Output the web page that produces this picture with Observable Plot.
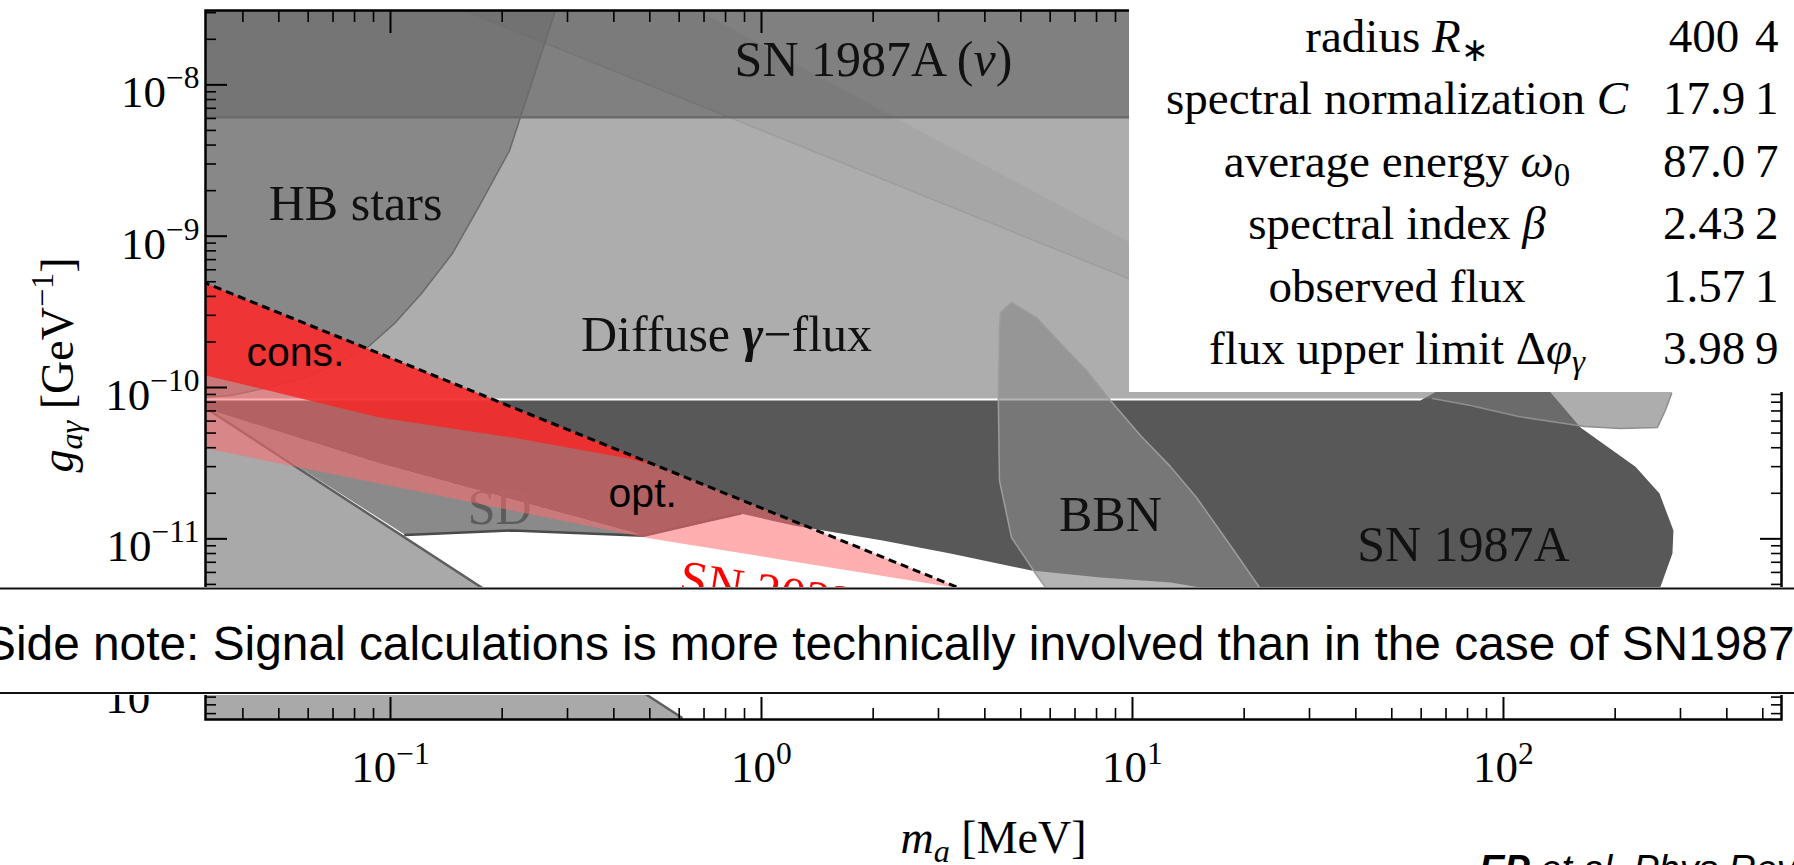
<!DOCTYPE html>
<html><head><meta charset="utf-8">
<script src="https://cdn.jsdelivr.net/npm/d3@7"></script>
<script src="https://cdn.jsdelivr.net/npm/@observablehq/plot@0.6"></script>
<style>
html,body{margin:0;padding:0;background:#fff;width:1794px;height:865px;overflow:hidden;}
#wrap{position:relative;width:1794px;height:865px;overflow:hidden;background:#fff;}
#wrap > *{position:absolute;}
</style></head><body><div id="wrap"></div>
<script>
// ---------------- data ----------------
const xMajorTicks = [0.1, 1, 10, 100];
const xMinorTicks = [0.04,0.05,0.06,0.07,0.08,0.09, 0.2,0.3,0.4,0.5,0.6,0.7,0.8,0.9,
                     2,3,4,5,6,7,8,9, 20,30,40,50,60,70,80,90, 200,300,400,500];
const yMajorTicks = [1e-12, 1e-11, 1e-10, 1e-9, 1e-8];
const yMinorTicks = [7e-13,8e-13,9e-13, 2e-12,3e-12,4e-12,5e-12,6e-12,7e-12,8e-12,9e-12,
                     2e-11,3e-11,4e-11,5e-11,6e-11,7e-11,8e-11,9e-11,
                     2e-10,3e-10,4e-10,5e-10,6e-10,7e-10,8e-10,9e-10,
                     2e-9,3e-9,4e-9,5e-9,6e-9,7e-9,8e-9,9e-9, 2e-8,3e-8];

// SN 1987A (nu) band
const nuBandMass = [0.031, 600];
const nuBandCoupling = [6.1e-9, 4e-8];
// HB stars
const hbMass = [0.031, 0.037, 0.0469, 0.0594, 0.072, 0.0867, 0.1025, 0.1212, 0.1469, 0.1727, 0.2093, 0.224, 0.288];
const hbCoupling = [8.6e-11, 8.86e-11, 1.0e-10, 1.164e-10, 1.44e-10, 1.84e-10, 2.65e-10, 4.18e-10, 7.69e-10, 1.548e-9, 3.68e-9, 6.1e-9, 4e-8];
// Diffuse gamma-flux
const diffuseMass = [0.031, 64.4, 81.5, 109.8, 165.3, 206.8, 260, 273, 284, 300, 300, 0.031];
const diffuseCoupling = [8.46e-11, 8.46e-11, 7.6e-11, 6.43e-11, 5.52e-11, 5.36e-11, 5.44e-11, 7.05e-11, 9.13e-11, 2e-10, 8e-9, 8e-9];
// SN 1987A (dark region)
const sn87Mass = [0.031, 59.7, 69.8, 129.8, 134.7, 161.3, 191.9, 226.9, 263.4, 287.2, 285.4, 263.4, 234.1, 20.8, 15.25, 12.66, 8.2, 5.34, 3.23, 2.12, 1.22, 0.878, 0.685, 0.484, 0.0934, 0.031];
const sn87Coupling = [8.2e-11, 8.2e-11, 1.015e-10, 1.015e-10, 9.13e-11, 5.44e-11, 4.01e-11, 3.0e-11, 1.99e-11, 1.134e-11, 8.0e-12, 4.62e-12, 2.88e-12, 2.88e-12, 4.77e-12, 5.14e-12, 5.55e-12, 6.17e-12, 8.0e-12, 9.74e-12, 1.224e-11, 1.47e-11, 1.28e-11, 1.05e-11, 3.15e-11, 7.4e-11];
// SD
const sdMass = [0.0319, 0.0934, 0.484, 0.213, 0.1097];
const sdCoupling = [7.3e-11, 3.15e-11, 1.05e-11, 1.135e-11, 1.06e-11];
const sdEdgeMass = [0.1097, 0.213, 0.484, 0.685, 0.878];
const sdEdgeCoupling = [1.06e-11, 1.135e-11, 1.05e-11, 1.28e-11, 1.47e-11];
// lower-left light region
const lowMass = [0.031, 0.609, 0.65, 0.031];
const lowCoupling = [7.6e-11, 6.59e-13, 5e-13, 5e-13];
// BBN
const bbnMass = [4.41, 4.72, 5.51, 6.48, 7.52, 8.72, 10.51, 12.66, 14.88, 18.37, 22.0, 24.3, 5.83, 5.83, 5.48, 4.72, 4.38, 4.35, 4.38];
const bbnCoupling = [3.13e-10, 3.65e-10, 2.90e-10, 1.895e-10, 1.296e-10, 8.2e-11, 4.82e-11, 3.0e-11, 1.875e-11, 9.03e-12, 4.77e-12, 2.88e-12, 2.88e-12, 4.77e-12, 5.9e-12, 1.02e-11, 2.43e-11, 8.2e-11, 2.38e-10];
// faint stripe in the diffuse region
const stripeMass = [0.140, 11.18, 11.18, 2.28, 0.62];
const stripeCoupling = [3.5e-8, 4.58e-10, 7.69e-10, 6.1e-9, 3.5e-8];
// SN 2023ixf bands
const dashedMass = [0.031, 0.528, 3.44, 5];
const dashedCoupling = [5.01e-10, 3.01e-11, 4.69e-12, 3.23e-12];
const optLowerMass = [3.44, 0.502, 0.031];
const optLowerCoupling = [4.69e-12, 1.005e-11, 4.01e-11];
const consLowerMass = [0.528, 0.438, 0.213, 0.0934, 0.031];
const consLowerCoupling = [3.01e-11, 3.39e-11, 4.67e-11, 6.33e-11, 1.22e-10];

// labels
const labelText = ["HB stars", "Diffuse {b:γ}−flux", "SN 1987A ({i:ν})", "BBN", "SN 1987A"];
const labelMass = [0.0805, 0.805, 2.004, 8.72, 78.0];
const labelCoupling = [1.27e-9, 1.756e-10, 1.136e-8, 1.135e-11, 7.19e-12];
const bandLabelText = ["cons.", "opt."];
const bandLabelMass = [0.0409, 0.387];
const bandLabelCoupling = [1.397e-10, 1.635e-11];

const xTitle = "{i:m}{subi:a} [MeV]";
const yTitle = "{i:g}{subi:aγ} [GeV{sup:−1}]";

const tableLabels = ["radius {i:R}{sub:∗}", "spectral normalization {i:C}", "average energy {i:ω}{sub:0}",
                     "spectral index {i:β}", "observed flux", "flux upper limit Δ{i:φ}{subi:γ}"];
const tableCol1 = ["400", "17.9", "87.0", "2.43", "1.57", "3.98"];
const tableCol2 = ["4", "1", "7", "2", "1", "9"];
const noteText = "Side note: Signal calculations is more technically involved than in the case of SN1987A.";

// ---------------- drawing ----------------
const serif = "'Liberation Serif','Times New Roman',serif";
const sans = "'Liberation Sans',Arial,sans-serif";
const pts = (ms, gs) => ms.map((m, i) => ({m, g: gs[i]}));
const XY = {x: "m", y: "g", clip: true};
const area = (ms, gs, o) => Plot.line(pts(ms, gs), {...XY, stroke: "none", curve: "linear", ...o});
const edge = (ms, gs, o) => Plot.line(pts(ms, gs), {...XY, fill: "none", curve: "linear", ...o});
const fmt = d => { const e = Math.round(Math.log10(d)); return "10{sup:" + (e < 0 ? "−" + (-e) : String(e)) + "}"; };

const consPoly = [pts(dashedMass.slice(0, 2), dashedCoupling.slice(0, 2)), pts(consLowerMass, consLowerCoupling)].flat();
const optPoly = [pts(dashedMass.slice(0, 3), dashedCoupling.slice(0, 3)), pts(optLowerMass, optLowerCoupling)].flat();

const labels = labelText.map((t, i) => ({t, m: labelMass[i], g: labelCoupling[i]}));
const bandLabels = bandLabelText.map((t, i) => ({t, m: bandLabelMass[i], g: bandLabelCoupling[i]}));

const tickAxes = [];
for (const a of ["bottom", "top"]) {
  tickAxes.push(Plot.axisX({anchor: a, ticks: xMajorTicks, tickSize: -22, fill: "none", strokeWidth: 2}));
  tickAxes.push(Plot.axisX({anchor: a, ticks: xMinorTicks, tickSize: -11, fill: "none", strokeWidth: 1.6}));
}
for (const a of ["left", "right"]) {
  tickAxes.push(Plot.axisY({anchor: a, ticks: yMajorTicks, tickSize: -22, fill: "none", strokeWidth: 2}));
  tickAxes.push(Plot.axisY({anchor: a, ticks: yMinorTicks, tickSize: -11, fill: "none", strokeWidth: 1.6}));
}

const chart = Plot.plot({
  width: 1794, height: 865,
  marginLeft: 205, marginRight: 13, marginTop: 10, marginBottom: 146,
  x: {type: "log", domain: [0.03172, 561.6]},
  y: {type: "log", domain: [6.40e-13, 3.10e-8]},
  style: {fontFamily: serif, fontSize: "45px", color: "black", background: "transparent", overflow: "visible"},
  marks: [
    area(lowMass, lowCoupling, {fill: "#a9a9a9"}),
    area(sdMass, sdCoupling, {fill: "#8a8a8a"}),
    area(sn87Mass, sn87Coupling, {fill: "#585858"}),
    area(diffuseMass, diffuseCoupling, {fill: "rgb(120,120,120)", fillOpacity: 0.605}),
    edge(diffuseMass.slice(1, 9), diffuseCoupling.slice(1, 9), {stroke: "#8e8e8e", strokeWidth: 1.5}),
    Plot.rect([{x1: nuBandMass[0], x2: nuBandMass[1], y1: nuBandCoupling[0], y2: nuBandCoupling[1]}],
      {x1: "x1", x2: "x2", y1: "y1", y2: "y2", fill: "#808080", clip: true}),
    area(stripeMass, stripeCoupling, {fill: "black", fillOpacity: 0.035}),
    edge(stripeMass.slice(0, 2), stripeCoupling.slice(0, 2), {stroke: "#000", strokeOpacity: 0.07, strokeWidth: 1.5}),
    area([...hbMass, 0.031], [...hbCoupling, 4e-8], {fill: "rgb(108,108,108)", fillOpacity: 0.565}),
    edge(hbMass, hbCoupling, {stroke: "#6a6a6a", strokeWidth: 1.5}),
    Plot.ruleY([nuBandCoupling[0]], {stroke: "#6b6b6b", strokeWidth: 2.5, clip: true}),
    area(bbnMass, bbnCoupling, {fill: "rgb(138,138,138)", fillOpacity: 0.64}),
    edge([...bbnMass, bbnMass[0]], [...bbnCoupling, bbnCoupling[0]], {stroke: "#9c9c9c", strokeWidth: 1.5}),
    edge([lowMass[0], lowMass[1]], [lowCoupling[0], lowCoupling[1]], {stroke: "#5f5f5f", strokeWidth: 2.5}),
    edge(sdEdgeMass, sdEdgeCoupling, {stroke: "#4a4a4a", strokeWidth: 2.5}),
    Plot.text(["SD"], {x: [0.197], y: [1.262e-11], text: d => d, fill: "#5c5c5c", fontSize: 50, fontFamily: serif, lineAnchor: "bottom"}),
    Plot.line(optPoly, {...XY, stroke: "none", fill: "rgb(255,108,108)", fillOpacity: 0.54}),
    Plot.line(consPoly, {...XY, stroke: "none", fill: "rgb(245,40,40)", fillOpacity: 0.85}),
    edge(dashedMass, dashedCoupling, {stroke: "black", strokeWidth: 3, strokeDasharray: "8,5", strokeLinecap: "butt"}),
    Plot.text(labels, {x: "m", y: "g", text: "t", fill: "#111", fontSize: 50, fontFamily: serif, lineAnchor: "bottom"}),
    Plot.text(bandLabels, {x: "m", y: "g", text: "t", fill: "black", fontSize: 41, fontFamily: sans, textAnchor: "start", lineAnchor: "bottom"}),
    Plot.text(["SN 2023ixf"], {x: [0.594], y: [4.35e-12], text: d => d, fill: "#ff0000", fontSize: 50, fontFamily: serif, textAnchor: "start", lineAnchor: "bottom", rotate: 9}),
    Plot.axisX({ticks: xMajorTicks, tickSize: 0, tickPadding: 31, tickFormat: fmt, label: null, fontSize: 45}),
    Plot.axisY({ticks: yMajorTicks, tickSize: 0, tickPadding: 6, dy: 8, tickFormat: fmt, label: null, fontSize: 45}),
    ...tickAxes,
    Plot.text([xTitle], {frameAnchor: "bottom", dy: 133, text: d => d, fontSize: 46, textAnchor: "middle", lineAnchor: "bottom"}),
    Plot.text([yTitle], {frameAnchor: "left", dx: -133, rotate: -90, text: d => d, fontSize: 46, textAnchor: "middle", lineAnchor: "bottom"}),
    Plot.frame({stroke: "black", strokeWidth: 2.5})
  ]
});
chart.style.left = "0px"; chart.style.top = "0px";
const wrap = document.getElementById("wrap");
wrap.appendChild(chart);

// ----- table overlay -----
const tbl = d3.select(wrap).append("svg").attr("width", 665).attr("height", 392)
  .style("left", "1129px").style("top", "0px")
  .attr("font-family", serif).attr("font-size", 47);
tbl.append("rect").attr("width", 665).attr("height", 392).attr("fill", "white");
tableLabels.forEach((t, i) => {
  const y = 52 + i * 62.4;
  tbl.append("text").attr("x", 268).attr("y", y).attr("text-anchor", "middle").text(t);
  tbl.append("text").attr("x", 575).attr("y", y).attr("text-anchor", "middle").text(tableCol1[i]);
  tbl.append("text").attr("x", 626).attr("y", y).attr("text-anchor", "start").text(tableCol2[i]);
});

// ----- side note overlay -----
const ctx = document.createElement("canvas").getContext("2d");
ctx.font = "100px 'Liberation Sans'";
const prefix = noteText.slice(0, noteText.indexOf("SN1987") + 6);
const noteStart = -16, noteEnd = 1795;
const noteFs = 100 * (noteEnd - noteStart) / ctx.measureText(prefix).width;
const note = d3.select(wrap).append("svg").attr("width", 1794).attr("height", 110)
  .style("left", "0px").style("top", "586px");
note.append("rect").attr("y", 1).attr("width", 1794).attr("height", 108).attr("fill", "white");
note.append("line").attr("x1", 0).attr("x2", 1794).attr("y1", 2.5).attr("y2", 2.5).attr("stroke", "#111").attr("stroke-width", 2);
note.append("line").attr("x1", 0).attr("x2", 1794).attr("y1", 107).attr("y2", 107).attr("stroke", "#111").attr("stroke-width", 2);
note.append("text").attr("x", noteStart).attr("y", 74)
  .attr("font-family", sans).attr("font-size", noteFs.toFixed(2)).attr("fill", "black").text(noteText);

// ----- reference caption -----
d3.select(wrap).append("div").style("left", "1479px").style("top", "850px")
  .style("font", "italic 38px 'Liberation Sans', Arial, sans-serif").style("line-height", "38px").style("white-space", "nowrap")
  .html("<b>EP</b> et al. Phys Rev");

// ----- rich text (italic, sub/superscripts) -----
function richify(root) {
  const NS = "http://www.w3.org/2000/svg";
  root.querySelectorAll("text").forEach(el => {
    const s = el.textContent;
    if (!/\{(i|b|sup|sub|subi):/.test(s)) return;
    const fs = parseFloat(getComputedStyle(el).fontSize) || 45;
    while (el.firstChild) el.removeChild(el.firstChild);
    let shift = 0, m;
    const re = /\{(i|b|sup|sub|subi):([^}]*)\}|([^{]+)/g;
    while ((m = re.exec(s))) {
      const cmd = m[1], txt = cmd ? m[2] : m[3];
      const ts = document.createElementNS(NS, "tspan");
      let target = 0;
      if (cmd === "sup") { target = 0.42 * fs; ts.setAttribute("font-size", (0.7 * fs).toFixed(1)); }
      if (cmd === "sub" || cmd === "subi") { target = -0.2 * fs; ts.setAttribute("font-size", (0.7 * fs).toFixed(1)); }
      if (cmd === "i" || cmd === "subi" || cmd === "b") ts.setAttribute("font-style", "italic");
      if (cmd === "b") ts.setAttribute("font-weight", "bold");
      const dy = shift - target;
      if (Math.abs(dy) > 0.01) ts.setAttribute("dy", dy.toFixed(1));
      shift = target;
      ts.textContent = txt;
      el.appendChild(ts);
    }
  });
}
richify(wrap);
</script></body></html>
